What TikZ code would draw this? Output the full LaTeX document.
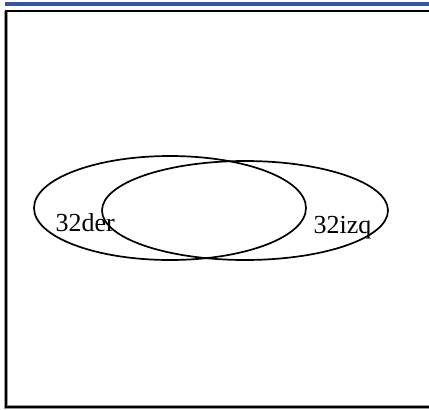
\documentclass[tikz,border=0pt]{standalone}
\usepackage{fontspec}
\setmainfont{Liberation Serif}
\usetikzlibrary{shapes.geometric}
\definecolor{barblue}{RGB}{52,84,164}
\tikzset{
  setellipse/.style={draw=black, line width=1.7pt, ellipse, inner sep=0pt},
  setlabel/.style={inner sep=0pt, anchor=base west, font=\fontsize{26}{30}\selectfont}
}
\begin{document}
\begin{tikzpicture}[x=1pt,y=-1pt]
\useasboundingbox (0,0) rectangle (429,410);
\fill[barblue] (5,1.5) rectangle (429,5.5);
\draw[black!40, line width=3.5pt] (6,11) -- (6,407) -- (432,407);
\draw[black, line width=1.8pt] (432,11) -- (6,11) -- (6,407) -- (432,407);
\node[setellipse, minimum width=272pt, minimum height=104pt] (der) at (170,208) {};
\node[setellipse, minimum width=286pt, minimum height=99pt] (izq) at (245,210.5) {};
\node[setlabel] (lder) at (55.5,231.5) {32der};
\node[setlabel] (lizq) at (313.5,233) {32izq};
\end{tikzpicture}
\end{document}
